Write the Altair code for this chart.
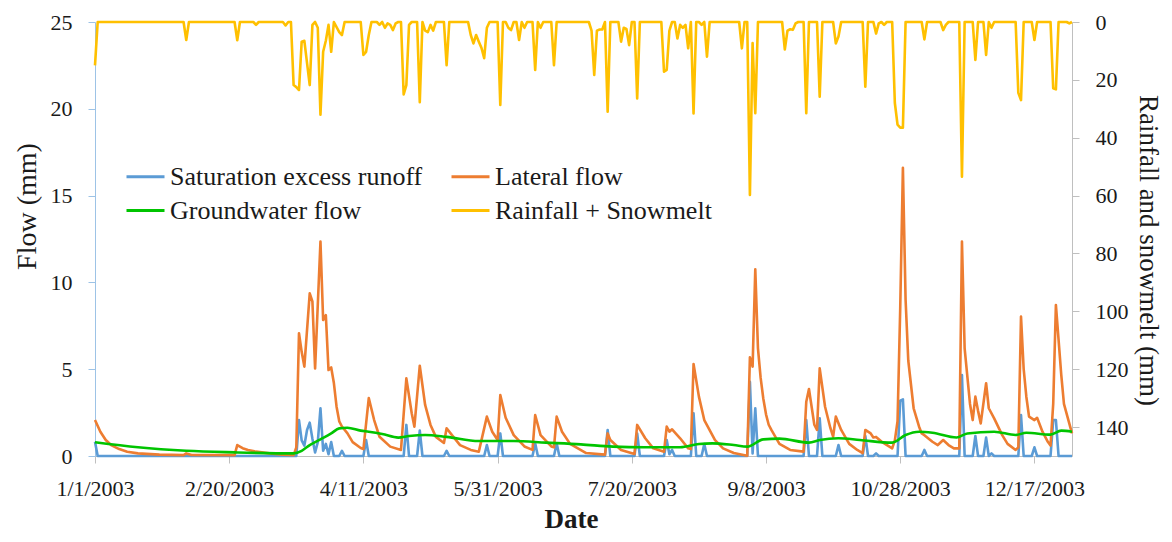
import altair as alt
import pandas as pd

YEAR_START = "2003-01-01"
FONT = "Liberation Serif"

# legend order follows the reference's two columns
series_names = ["Saturation excess runoff", "Groundwater flow", "Lateral flow", "Rainfall + Snowmelt"]
series_colors = ["#5B9BD5", "#00C400", "#ED7D31", "#FFC000"]
SAT, GW, LAT, RAIN = series_names

# (day of year index, mm)
saturation_points = [(0, 0.82), (1, 0), (75, 0), (76, 2.07), (77, 0.9), (78, 0.6), (79, 1.5), (80, 1.92), (81, 1.0),
                     (82, 0.2), (83, 0.8), (84, 2.75), (85, 0.3), (86, 0.7), (87, 0.1), (88, 0.8), (89, 0), (91, 0),
                     (92, 0.3), (93, 0), (100, 0), (101, 0.92), (102, 0), (115, 0), (116, 1.79), (117, 0), (120, 0),
                     (121, 1.46), (122, 0), (130, 0), (131, 0.3), (132, 0), (145, 0), (146, 0.63), (147, 0), (150, 0),
                     (151, 1.3), (152, 0), (163, 0), (164, 0.73), (165, 0), (171, 0), (172, 0.73), (173, 0), (190, 0),
                     (191, 1.5), (192, 0), (201, 0), (202, 1.3), (203, 0), (212, 0), (213, 0.92), (214, 0.1),
                     (215, 0.35), (216, 0), (222, 0), (223, 2.46), (224, 0), (226, 0), (227, 0.69), (228, 0), (243, 0),
                     (244, 4.28), (245, 0.15), (246, 2.75), (247, 0), (264, 0), (265, 2.07), (266, 0), (269, 0),
                     (270, 2.17), (271, 0), (276, 0), (277, 0.63), (278, 0), (286, 0), (287, 1.15), (288, 0), (290, 0),
                     (291, 0.15), (292, 0), (299, 0), (300, 3.19), (301, 3.26), (302, 0), (308, 0), (309, 0.35),
                     (310, 0), (322, 0), (323, 4.67), (324, 0), (327, 0), (328, 1.15), (329, 0), (331, 0), (332, 1.06),
                     (333, 0), (334, 0.15), (335, 0), (344, 0), (345, 2.36), (346, 0), (349, 0), (350, 0.5), (351, 0),
                     (356, 0), (357, 2.07), (358, 2.07), (359, 0), (364, 0)]

lateral_points = [(0, 2.07), (2, 1.4), (4, 0.92), (6, 0.63), (9, 0.4), (12, 0.25), (16, 0.15), (24, 0.08), (33, 0.05),
                  (34, 0.15), (36, 0.06), (52, 0.05), (53, 0.63), (55, 0.45), (57, 0.35), (60, 0.25), (65, 0.15),
                  (70, 0.08), (74, 0.05), (75, 0.5), (76, 7.07), (77, 6.0), (78, 5.15), (80, 9.37), (81, 8.9), (82, 5.05),
                  (84, 12.35), (85, 7.83), (86, 8.12), (87, 4.95), (88, 5.1), (89, 4.2), (90, 2.84), (91, 2.0),
                  (92, 1.7), (94, 1.32), (96, 0.8), (99, 0.46), (100, 0.4), (102, 3.34), (104, 2.07), (106, 1.11),
                  (110, 0.54), (114, 0.35), (116, 4.47), (118, 2.46), (119, 1.69), (121, 5.2), (123, 2.94),
                  (125, 1.79), (127, 1.1), (130, 0.75), (131, 1.6), (133, 1.2), (136, 0.63), (140, 0.35), (143, 0.25),
                  (146, 2.27), (148, 1.4), (150, 0.92), (151, 3.51), (153, 2.2), (156, 1.2), (160, 0.55), (163, 0.35),
                  (164, 2.36), (166, 1.2), (170, 0.55), (171, 0.5), (172, 2.27), (174, 1.4), (177, 0.7), (183, 0.17),
                  (190, 0.08), (191, 1.3), (192, 0.92), (196, 0.35), (201, 0.12), (202, 1.79), (205, 1.02),
                  (208, 0.44), (212, 0.25), (213, 1.69), (214, 1.4), (215, 1.54), (218, 1.02), (221, 0.44), (222, 0.4),
                  (223, 5.3), (225, 3.42), (227, 2.07), (231, 0.92), (234, 0.44), (238, 0.17), (243, 0.02),
                  (244, 5.68), (245, 5.15), (246, 10.75), (247, 6.2), (248, 4.5), (249, 3.3), (250, 2.4), (251, 1.8),
                  (252, 1.5), (255, 0.7), (259, 0.35), (264, 0.25), (265, 3.13), (266, 3.86), (268, 1.8), (269, 1.5),
                  (270, 5.05), (272, 2.84), (274, 1.6), (275, 1.11), (276, 2.27), (278, 1.5), (281, 0.7), (284, 0.35),
                  (286, 0.17), (287, 1.5), (289, 1.3), (290, 1.07), (291, 1.1), (293, 0.83), (297, 0.44), (298, 0.9),
                  (299, 2.0), (300, 8.5), (301, 16.6), (302, 9.0), (303, 5.5), (305, 2.75), (307, 1.7), (308, 1.3),
                  (309, 1.2), (312, 0.82), (314, 0.63), (316, 0.92), (318, 0.63), (320, 0.44), (322, 0.44),
                  (323, 12.35), (324, 6.2), (326, 3.0), (327, 2.07), (328, 3.42), (329, 2.6), (330, 1.88), (332, 4.19),
                  (333, 2.75), (335, 2.17), (338, 1.2), (340, 0.7), (343, 0.35), (344, 0.5), (345, 8.03), (346, 5.0),
                  (347, 3.4), (348, 2.27), (350, 2.07), (351, 2.2), (353, 1.4), (355, 0.82), (356, 0.6), (357, 3.0),
                  (358, 8.7), (360, 4.67), (361, 3.0), (364, 1.3)]

groundwater_points = [(0, 0.79), (16, 0.5), (34, 0.3), (52, 0.21), (74, 0.15), (77, 0.3), (80, 0.63), (84, 0.96),
                      (88, 1.3), (91, 1.59), (94, 1.63), (99, 1.46), (102, 1.4), (107, 1.27), (113, 1.06), (117, 1.15),
                      (123, 1.21), (131, 1.1), (143, 0.86), (156, 0.86), (168, 0.77), (181, 0.67), (193, 0.54),
                      (205, 0.5), (218, 0.5), (225, 0.69), (230, 0.73), (238, 0.63), (243, 0.54), (249, 0.96),
                      (255, 1.0), (266, 0.77), (270, 0.92), (277, 1.02), (285, 0.92), (297, 0.77), (302, 1.21),
                      (307, 1.4), (312, 1.34), (321, 1.07), (325, 1.3), (335, 1.4), (343, 1.21), (347, 1.34),
                      (356, 1.23), (360, 1.46), (364, 1.4)]

rain_points = [(0, 15), (1, 0), (33, 0), (34, 6.2), (35, 0), (52, 0), (53, 6.3), (54, 0), (59, 0), (60, 1.0), (61, 0),
               (70, 0), (71, 1.2), (72, 0), (73, 0), (74, 21.8), (75, 22.5), (76, 23.5), (77, 6.8), (78, 6.5),
               (80, 21.8), (81, 1), (82, 0), (83, 2), (84, 32), (85, 10.3), (86, 6.5), (87, 1), (88, 10.3), (89, 0),
               (91, 3.5), (92, 4.5), (93, 0), (99, 0), (100, 11.4), (101, 10.3), (102, 4.5), (103, 0), (105, 0),
               (106, 1), (107, 0), (108, 2), (109, 0.5), (110, 1), (111, 2.8), (112, 0.5), (113, 0), (114, 0),
               (115, 25), (116, 21.8), (117, 1), (118, 0), (120, 0), (121, 27.7), (122, 0), (123, 3), (124, 3.5),
               (125, 1), (126, 3), (127, 0), (130, 0), (131, 14.9), (132, 0), (139, 0), (140, 4.5), (141, 7.4),
               (142, 4.5), (143, 6.8), (144, 9), (145, 12.5), (146, 2), (147, 0), (150, 0), (151, 28.7), (152, 0),
               (153, 0), (154, 2), (155, 2.8), (156, 0), (157, 0), (158, 6.2), (159, 0), (160, 2), (161, 0), (163, 0),
               (164, 16.6), (165, 0), (166, 2), (167, 0), (170, 0), (171, 14.9), (172, 0), (184, 0), (185, 3),
               (186, 18.3), (187, 3), (188, 2.6), (189, 2.6), (190, 0), (191, 31), (192, 0), (195, 0), (196, 6.8),
               (197, 2), (198, 2.4), (199, 8), (200, 0), (201, 0), (202, 26.4), (203, 0), (211, 0), (212, 17.2),
               (213, 16.6), (214, 3), (215, 0), (216, 0), (217, 5.7), (218, 1), (219, 2), (220, 1), (221, 9.1),
               (222, 0), (223, 31.6), (224, 0), (225, 0), (226, 1), (227, 0), (228, 12), (229, 0), (240, 0),
               (241, 9.1), (242, 0), (243, 0), (244, 59.8), (245, 7.3), (246, 31.5), (247, 0), (256, 0), (257, 9.5),
               (258, 3), (259, 2.5), (260, 2.7), (261, 0.5), (262, 0), (264, 0), (265, 31.5), (266, 0), (269, 0),
               (270, 25.8), (271, 0), (275, 0), (276, 7.4), (277, 5), (278, 0), (286, 0), (287, 22.4), (288, 0),
               (290, 0), (291, 4), (292, 0.5), (293, 0), (294, 1), (295, 0), (297, 0), (298, 28), (299, 35.5),
               (300, 36.5), (301, 36.5), (302, 0), (308, 0), (309, 6), (310, 0), (315, 0), (316, 2.8), (317, 1),
               (318, 0), (322, 0), (323, 53.5), (324, 0), (327, 0), (328, 13.1), (329, 0), (331, 0), (332, 11.4),
               (333, 0), (334, 2), (335, 0), (343, 0), (344, 24.5), (345, 27), (346, 0), (349, 0), (350, 6.2),
               (351, 0), (356, 0), (357, 22.9), (358, 23.3), (359, 0), (362, 0), (363, 0.5), (364, 0)]

flow_ticks = [0, 5, 10, 15, 20, 25]
rain_ticks = [0, 20, 40, 60, 80, 100, 120, 140]
date_ticks = [(1, 1), (2, 20), (4, 11), (5, 31), (7, 20), (9, 8), (10, 28), (12, 17)]


def frame(points, name):
    days = [p[0] for p in points]
    vals = [p[1] for p in points]
    dates = pd.Timestamp(YEAR_START) + pd.to_timedelta(days, unit="D")
    return pd.DataFrame({"date": dates, "value": vals, "series": name})


color = alt.Color(
    "series:N",
    scale=alt.Scale(domain=series_names, range=series_colors),
    legend=alt.Legend(
        orient="none", legendX=30, legendY=134, columns=2, title=None,
        symbolType="stroke", symbolSize=1444, symbolStrokeWidth=3,
        labelFont=FONT, labelFontSize=26, labelColor="#1a1a1a", labelOffset=4,
        labelLimit=600, columnPadding=22, rowPadding=-10, padding=0,
    ),
)

x_enc = alt.X(
    "date:T",
    scale=alt.Scale(domain=[alt.DateTime(year=2003, month=1, date=1), alt.DateTime(year=2003, month=12, date=31)], nice=False),
    axis=alt.Axis(
        values=[alt.DateTime(year=2003, month=m, date=d) for m, d in date_ticks],
        format="%-m/%-d/%Y", title="Date", grid=False,
        domainColor="#BFBFBF", tickColor="#BFBFBF", tickSize=7, labelPadding=15,
        labelFont=FONT, labelFontSize=22, labelColor="#1a1a1a", labelFlush=False, labelOverlap=False,
        titleFont=FONT, titleFontSize=27, titleFontWeight="bold", titleColor="#1a1a1a",
        titleX=476, titleY=77, titleAlign="center", titleBaseline="bottom",
    ),
)

y_flow = alt.Y(
    "value:Q",
    scale=alt.Scale(domain=[0, 25], nice=False),
    axis=alt.Axis(
        values=flow_ticks, title="Flow (mm)", grid=False,
        domainColor="#9DC3E6", tickColor="#9DC3E6", tickSize=7, labelPadding=16,
        labelFont=FONT, labelFontSize=22, labelColor="#1a1a1a", labelFlush=False,
        titleFont=FONT, titleFontSize=28, titleFontWeight="normal", titleColor="#1a1a1a",
        titleX=-68, titleY=184, titleAngle=270, titleAlign="center", titleBaseline="middle",
    ),
)

y_rain = alt.Y(
    "value:Q",
    scale=alt.Scale(domain=[0, 150], reverse=True, nice=False),
    axis=alt.Axis(
        orient="right", values=rain_ticks, title="Rainfall and snowmelt (mm)", grid=False,
        domainColor="#BFBFBF", tickColor="#BFBFBF", tickSize=7, labelPadding=16,
        labelFont=FONT, labelFontSize=26, labelColor="#1a1a1a", labelFlush=False,
        titleFont=FONT, titleFontSize=27, titleFontWeight="normal", titleColor="#1a1a1a",
        titleX=75, titleY=228, titleAngle=90, titleAlign="center", titleBaseline="middle",
    ),
)
# right-axis tick labels use the same size as the left ones
y_rain["axis"]["labelFontSize"] = 22


def line(points, name, interp="linear"):
    return alt.Chart(frame(points, name)).mark_line(
        strokeWidth=2.6, strokeJoin="round", interpolate=interp
    ).encode(x=x_enc, y=y_rain if name == RAIN else y_flow, color=color)


flows = alt.layer(
    line(saturation_points, SAT),
    line(lateral_points, LAT),
    line(groundwater_points, GW, "monotone"),
)
rain = line(rain_points, RAIN)

chart = (
    alt.layer(flows, rain)
    .resolve_scale(y="independent")
    .properties(
        width=977, height=434, autosize="none",
        padding={"left": 87, "top": 14, "right": 92, "bottom": 78},
        background="white",
    )
    .configure_view(strokeWidth=0)
)

chart.save("out.html", embed_options={"renderer": "svg", "actions": False})
